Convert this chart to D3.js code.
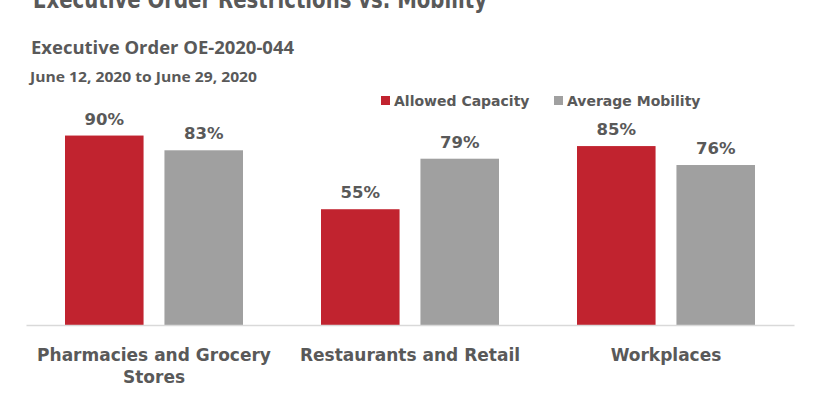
<!DOCTYPE html>
<html>
<head>
<meta charset="utf-8">
<script src="https://cdn.jsdelivr.net/npm/d3@7"></script>
<style>
  body { margin: 0; background: #fff; }
  svg text { fill: #595959; }
</style>
</head>
<body>
<svg id="chart" width="820" height="394"></svg>
<script>
// data
var categories = [["Pharmacies and Grocery", "Stores"], ["Restaurants and Retail"], ["Workplaces"]]
var seriesNames = ["Allowed Capacity", "Average Mobility"]
var allowedCapacity = [90, 55, 85]
var averageMobility = [83, 79, 76]
var seriesColors = ["#C1232F", "#A0A0A0"]

var svg = d3.select('#chart')
var labelFont = "'DejaVu Sans', sans-serif"

// headings (the main title is cropped at the top, as in the original)
svg.append("text")
  .attr("x", 33).attr("y", 8)
  .attr("font-family", labelFont)
  .attr("font-weight", "bold")
  .attr("font-size", 24)
  .attr("textLength", 454).attr("lengthAdjust", "spacingAndGlyphs")
  .text("Executive Order Restrictions vs. Mobility")

svg.append("text")
  .attr("x", 31).attr("y", 54)
  .attr("font-family", "'Open Sans', sans-serif")
  .attr("font-weight", "bold")
  .attr("font-size", 17)
  .attr("textLength", 263).attr("lengthAdjust", "spacingAndGlyphs")
  .text("Executive Order OE-2020-044")

svg.append("text")
  .attr("x", 30).attr("y", 82)
  .attr("font-family", "'Open Sans', sans-serif")
  .attr("font-weight", "bold")
  .attr("font-size", 14)
  .attr("textLength", 227).attr("lengthAdjust", "spacingAndGlyphs")
  .text("June 12, 2020 to June 29, 2020")

// scales
var x0 = d3.scaleBand()
  .domain(d3.range(categories.length))
  .range([26, 794])
  .paddingInner(0)
  .paddingOuter(0)

var x1 = d3.scaleBand()
  .domain(d3.range(seriesNames.length))
  .range([39, x0.bandwidth() - 39])
  .paddingInner(0.21)

var y = d3.scaleLinear()
  .domain([0, 100])
  .range([325, 114.5])

var rows = categories.map((c, i) => ({i: i, values: [allowedCapacity[i], averageMobility[i]]}))

var groups = svg.append("g").selectAll("g")
  .data(rows)
  .join("g")
  .attr("transform", d => "translate(" + x0(d.i) + ",0)")

groups.selectAll("rect")
  .data(d => d.values.map((v, s) => ({s: s, v: v})))
  .join("rect")
  .attr("x", d => x1(d.s))
  .attr("width", x1.bandwidth())
  .attr("y", d => y(d.v))
  .attr("height", d => y(0) - y(d.v))
  .attr("fill", d => seriesColors[d.s])

groups.selectAll("text.val")
  .data(d => d.values.map((v, s) => ({s: s, v: v})))
  .join("text")
  .attr("class", "val")
  .attr("x", d => x1(d.s) + x1.bandwidth() / 2)
  .attr("y", d => y(d.v) - 11)
  .attr("text-anchor", "middle")
  .attr("font-family", labelFont)
  .attr("font-weight", "bold")
  .attr("font-size", 16.5)
  .text(d => d.v + "%")

// baseline axis
var xAxis = d3.axisBottom(x0).tickSize(0).tickFormat("")
var axisG = svg.append("g")
  .attr("transform", "translate(0," + y(0) + ")")
  .call(xAxis)
axisG.select(".domain").attr("stroke", "#D9D9D9").attr("stroke-width", 1.5)

// category labels
var catLabels = svg.append("g").selectAll("text")
  .data(categories)
  .join("text")
  .attr("text-anchor", "middle")
  .attr("font-family", labelFont)
  .attr("font-weight", "bold")
  .attr("font-size", 17)
  .attr("y", 361)

catLabels.selectAll("tspan")
  .data((d, i) => d.map(line => ({line: line, i: i})))
  .join("tspan")
  .attr("x", d => x0(d.i) + x0.bandwidth() / 2)
  .attr("dy", (d, j) => j == 0 ? 0 : 22)
  .text(d => d.line)

// legend
var legendX = [381, 554]
var legend = svg.append("g").selectAll("g")
  .data(seriesNames)
  .join("g")
  .attr("transform", (d, i) => "translate(" + legendX[i] + ",96)")

legend.append("rect")
  .attr("width", 9).attr("height", 9)
  .attr("fill", (d, i) => seriesColors[i])

legend.append("text")
  .attr("x", 13).attr("y", 10)
  .attr("font-family", labelFont)
  .attr("font-weight", "bold")
  .attr("font-size", 14)
  .text(d => d)
</script>
</body>
</html>
